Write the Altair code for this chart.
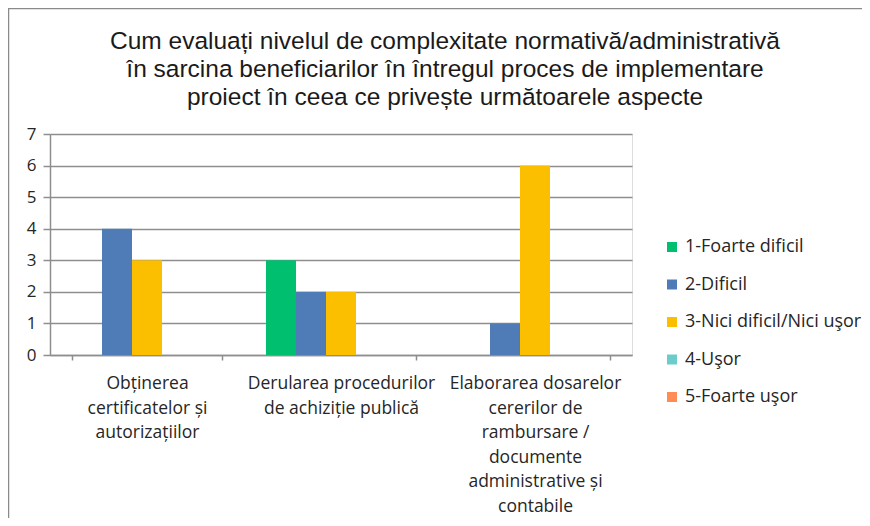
import altair as alt
import pandas as pd

categories = [
    "Obținerea certificatelor și autorizațiilor",
    "Derularea procedurilor de achiziție publică",
    "Elaborarea dosarelor cererilor de rambursare / documente administrative și contabile",
]
category_lines = [
    ["Obținerea", "certificatelor și", "autorizațiilor"],
    ["Derularea procedurilor", "de achiziție publică"],
    ["Elaborarea dosarelor", "cererilor de", "rambursare /", "documente", "administrative și", "contabile"],
]
series = ["1-Foarte dificil", "2-Dificil", "3-Nici dificil/Nici uşor", "4-Uşor", "5-Foarte uşor"]
colors = ["#00BF6F", "#4F7BB6", "#FBBF00", "#6CCCCC", "#FF8C55"]
v_foarte_dificil = [0, 3, 0]
v_dificil = [4, 2, 1]
v_nici = [3, 2, 6]
v_usor = [0, 0, 0]
v_foarte_usor = [0, 0, 0]

title_lines = [
    "Cum evaluați nivelul de complexitate normativă/administrativă",
    "în sarcina beneficiarilor în întregul proces de implementare",
    "proiect în ceea ce privește următoarele aspecte",
]

values_by_series = [v_foarte_dificil, v_dificil, v_nici, v_usor, v_foarte_usor]
rows = []
for s, vals in zip(series, values_by_series):
    for c, v in zip(categories, vals):
        rows.append({"Aspect": c, "Nivel": s, "Valoare": v})
df = pd.DataFrame(rows)

# label expression with explicit line breaks
parts = []
for c, lines in zip(categories, category_lines):
    arr = "[" + ",".join("'" + l + "'" for l in lines) + "]"
    parts.append(f"datum.value == '{c}' ? {arr}")
label_expr = " : ".join(parts) + " : datum.value"

FONT = "Open Sans"
GRID = "#8E8E8E"
TXT = "#262626"

bars = alt.Chart(df).mark_bar().encode(
    x=alt.X(
        "Aspect:N",
        sort=categories,
        scale=alt.Scale(paddingInner=0.2268, paddingOuter=0.1134),
        axis=alt.Axis(
            title=None,
            labelAngle=0,
            labelExpr=label_expr,
            labelFont=FONT,
            labelFontSize=17.5,
            labelColor=TXT,
            labelLineHeight=24.5,
            labelBaseline="top",
            labelPadding=14.5,
            labelLimit=300,
            tickBand="extent",
            tickSize=5,
            tickColor=GRID,
            tickWidth=1.5,
            domainColor=GRID,
            domainWidth=1.5,
            grid=False,
        ),
    ),
    xOffset=alt.XOffset("Nivel:N", sort=series, scale=alt.Scale(domain=series, paddingInner=0, paddingOuter=0)),
    y=alt.Y(
        "Valoare:Q",
        scale=alt.Scale(domain=[0, 7], nice=False),
        axis=alt.Axis(
            title=None,
            values=[0, 1, 2, 3, 4, 5, 6, 7],
            labelFont=FONT,
            labelFontSize=17,
            labelColor=TXT,
            labelPadding=7,
            tickSize=7,
            tickColor=GRID,
            tickWidth=1.5,
            domainColor=GRID,
            domainWidth=1.5,
            grid=True,
            gridColor=GRID,
            gridWidth=1.5,
        ),
    ),
    color=alt.Color(
        "Nivel:N",
        sort=series,
        scale=alt.Scale(domain=series, range=colors),
        legend=alt.Legend(
            title=None,
            orient="none",
            legendX=613,
            legendY=104,
            symbolType="square",
            symbolSize=100,
            symbolStrokeWidth=0,
            labelFont=FONT,
            labelFontSize=18,
            labelColor=TXT,
            labelOffset=4,
            rowPadding=19.5,
            labelLimit=250,
        ),
    ),
)

border = alt.Chart(alt.Data(values=[{}])).mark_rect(
    fill=None, stroke="#8A8A8A", strokeWidth=1.5
).encode(
    x=alt.value(-41.5), x2=alt.value(830), y=alt.value(-125.5), y2=alt.value(400)
)

title = alt.Chart(alt.Data(values=[{}])).mark_text(
    text=title_lines,
    font="Liberation Sans",
    fontSize=24.5,
    lineHeight=28,
    align="center",
    baseline="middle",
    color="#1a1a1a",
).encode(x=alt.value(395), y=alt.value(-92))

chart = alt.layer(border, title, bars).properties(
    width=582,
    height=221,
    padding={"left": 42, "top": 126, "right": 230, "bottom": 163},
    autosize=alt.AutoSizeParams(type="none"),
).configure_view(stroke=None).configure(background="white")

chart.save("out.html", embed_options={"renderer": "svg", "actions": False})
